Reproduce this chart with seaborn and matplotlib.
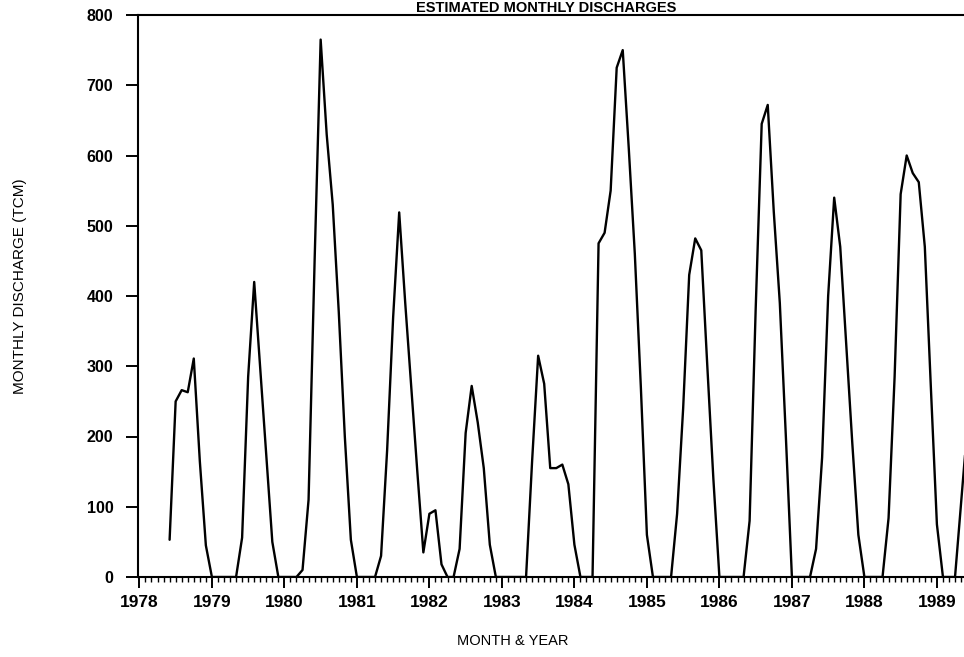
import numpy as np
import pandas as pd
import matplotlib
matplotlib.use("Agg")
import matplotlib.pyplot as plt
from matplotlib.ticker import MultipleLocator
import seaborn as sns

# Monthly discharge (TCM), Jan..Dec of each year (NaN = no data)
nan = np.nan
q1978 = [nan, nan, nan, nan, nan, 53, 250, 266, 263, 311, 165, 45]
q1979 = [0, 0, 0, 0, 0, 56, 285, 420, 296, 170, 50, 0]
q1980 = [0, 0, 0, 10, 110, 450, 765, 630, 530, 377, 200, 53]
q1981 = [0, 0, 0, 0, 30, 180, 370, 519, 390, 270, 150, 35]
q1982 = [90, 95, 18, 0, 0, 40, 205, 272, 220, 155, 46, 0]
q1983 = [0, 0, 0, 0, 0, 165, 315, 275, 155, 155, 160, 132]
q1984 = [46, 0, 0, 0, 475, 490, 550, 725, 750, 610, 460, 270]
q1985 = [60, 0, 0, 0, 0, 90, 240, 430, 482, 465, 300, 140]
q1986 = [0, 0, 0, 0, 0, 80, 380, 645, 672, 520, 390, 200]
q1987 = [0, 0, 0, 0, 40, 170, 400, 540, 470, 330, 190, 60]
q1988 = [0, 0, 0, 0, 84, 285, 545, 600, 575, 562, 470, 270]
q1989 = [75, 0, 0, 0, 105, 210]

years = list(range(1978, 1990))
year_labels = [str(y) for y in years]
y_ticks = [0, 100, 200, 300, 400, 500, 600, 700, 800]

series = [q1978, q1979, q1980, q1981, q1982, q1983, q1984, q1985,
          q1986, q1987, q1988, q1989]
rows = []
for yr, vals in zip(years, series):
    for m, v in enumerate(vals):
        rows.append({"t": yr + m / 12.0, "q": v})
df = pd.DataFrame(rows).dropna()

sns.set_theme(style="ticks")
plt.rcParams["font.family"] = ["Liberation Sans", "DejaVu Sans"]

W, H = 964, 657
fig = plt.figure(figsize=(W / 100, H / 100), dpi=100)
fig.patch.set_facecolor("white")

# axes geometry in pixels
x0_px = 139.4          # pixel of Jan 1978
px_per_yr = 72.5
xmin, xmax = 1977.985, 1989.7
left_px = x0_px + (xmin - 1978) * px_per_yr
width_px = (xmax - xmin) * px_per_yr
bottom_px, top_px = 577, 15
ax = fig.add_axes([left_px / W, 1 - bottom_px / H, width_px / W, (bottom_px - top_px) / H])
ax.set_facecolor("white")

sns.lineplot(data=df, x="t", y="q", ax=ax, color="black", linewidth=1.7,
             estimator=None, sort=True)

ax.set_xlim(xmin, xmax)
ax.set_ylim(0, 800)
ax.set_xticks(years)
ax.set_xticklabels(year_labels)
ax.xaxis.set_minor_locator(MultipleLocator(1 / 12))
ax.set_yticks(y_ticks)
ax.set_yticklabels([str(v) for v in y_ticks])
ax.set_xlabel("")
ax.set_ylabel("")

for s in ["left", "bottom", "top"]:
    ax.spines[s].set_visible(True)
    ax.spines[s].set_color("black")
    ax.spines[s].set_linewidth(1.5)
ax.spines["right"].set_visible(False)

ax.tick_params(axis="x", which="major", direction="out", length=8, width=1.4,
               colors="black", labelsize=12.5, pad=5)
ax.tick_params(axis="x", which="minor", direction="out", length=3.5, width=1.0,
               colors="black")
ax.tick_params(axis="y", which="major", direction="out", length=9, width=1.4,
               colors="black", labelsize=11.5, pad=9)
for lab in ax.get_xticklabels() + ax.get_yticklabels():
    lab.set_fontweight("bold")

fig.text(546 / W, 1 - 1 / H, "ESTIMATED MONTHLY DISCHARGES", ha="center",
         va="top", fontsize=10.5, fontweight="bold", color="black")
fig.text(20 / W, 1 - 286 / H, "MONTHLY DISCHARGE (TCM)", rotation=90,
         ha="center", va="center", fontsize=11, color="black")
fig.text(513 / W, 1 - 641 / H, "MONTH & YEAR", ha="center", va="center",
         fontsize=10.5, color="black")

fig.savefig("out.png", dpi=100, facecolor="white")
